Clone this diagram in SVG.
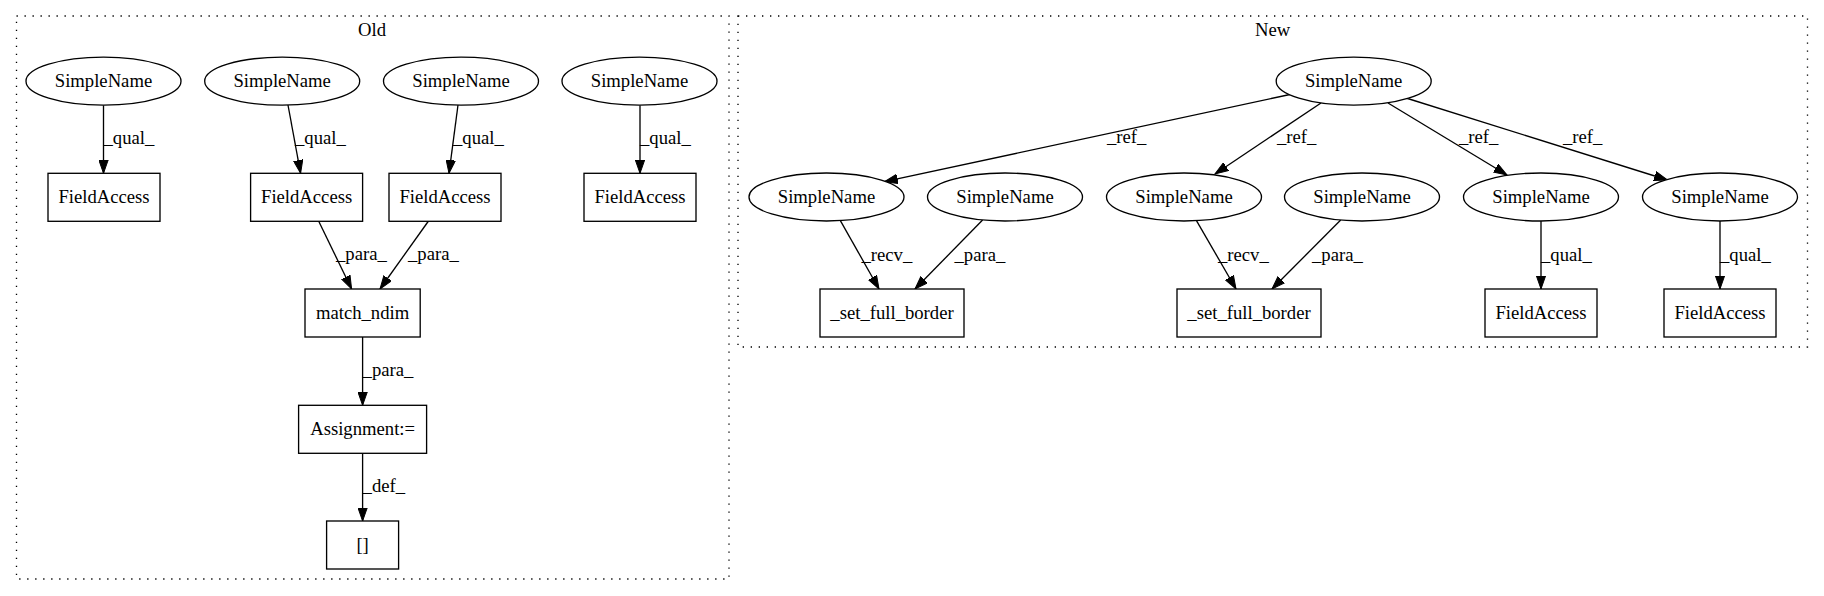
<svg xmlns="http://www.w3.org/2000/svg" width="1824" height="596" viewBox="0 0 1824 596">
<style>
text{font-family:"Liberation Serif","Times New Roman",serif;font-size:18.67px;fill:#000}
.n{text-anchor:middle}
.cl{fill:none;stroke:#000;stroke-width:1.33;stroke-dasharray:1.33,6.67}
.nd{fill:#fff;stroke:#000;stroke-width:1.33}
.e{fill:none;stroke:#000;stroke-width:1.33;marker-end:url(#ah)}
</style>
<defs>
<marker id="ah" markerUnits="userSpaceOnUse" markerWidth="14" markerHeight="10" refX="13.3" refY="4.67" orient="auto" viewBox="0 0 14 9.34">
<path d="M0,0 L13.3,4.67 L0,9.34 z" fill="#000" stroke="#000" stroke-width="1"/>
</marker>
</defs>
<rect width="1824" height="596" fill="#fff"/>
<g id="cluster_old">
<rect class="cl" x="16.5" y="16" width="712.5" height="563"/>
<text class="n" x="372" y="36">Old</text>
</g>
<g id="cluster_new">
<rect class="cl" x="738" y="16" width="1069.5" height="331"/>
<text class="n" x="1272.7" y="36">New</text>
</g>
<g id="connectors">
<line class="e" x1="103.5" y1="105.2" x2="103.5" y2="173.3"/>
<text x="103.5" y="144">_qual_</text>
<line class="e" x1="288" y1="105" x2="300.6" y2="173.3"/>
<text x="295" y="144">_qual_</text>
<line class="e" x1="458" y1="105" x2="449" y2="173.3"/>
<text x="453" y="144">_qual_</text>
<line class="e" x1="640" y1="105.2" x2="640" y2="173.3"/>
<text x="640" y="144">_qual_</text>
<line class="e" x1="318.6" y1="221" x2="351.6" y2="289"/>
<text x="336" y="260">_para_</text>
<line class="e" x1="428.5" y1="221" x2="380" y2="289"/>
<text x="408" y="260">_para_</text>
<line class="e" x1="362.6" y1="337" x2="362.6" y2="405.3"/>
<text x="362.6" y="376">_para_</text>
<line class="e" x1="362.6" y1="453.3" x2="362.6" y2="521"/>
<text x="362.6" y="491.5">_def_</text>
<line class="e" x1="1290" y1="94.5" x2="884.4" y2="181.7"/>
<text x="1107" y="143">_ref_</text>
<line class="e" x1="1321" y1="103" x2="1215" y2="174"/>
<text x="1277" y="143">_ref_</text>
<line class="e" x1="1388" y1="103" x2="1507" y2="175"/>
<text x="1459" y="143">_ref_</text>
<line class="e" x1="1406" y1="98" x2="1667.5" y2="180"/>
<text x="1563" y="143">_ref_</text>
<line class="e" x1="840.5" y1="220.8" x2="879" y2="289"/>
<text x="861.5" y="261">_recv_</text>
<line class="e" x1="982.6" y1="220" x2="915" y2="289"/>
<text x="954.5" y="261">_para_</text>
<line class="e" x1="1196.6" y1="220.8" x2="1236" y2="289"/>
<text x="1218" y="261">_recv_</text>
<line class="e" x1="1340.7" y1="220" x2="1272" y2="289"/>
<text x="1312" y="261">_para_</text>
<line class="e" x1="1541" y1="221" x2="1541" y2="289"/>
<text x="1541" y="261">_qual_</text>
<line class="e" x1="1720" y1="221" x2="1720" y2="289"/>
<text x="1720" y="261">_qual_</text>
</g>
<g id="old_sn1"><ellipse class="nd" cx="103.5" cy="81.2" rx="77.5" ry="24"/><text class="n" x="103.5" y="86.7">SimpleName</text></g>
<g id="old_sn2"><ellipse class="nd" cx="282.2" cy="81.2" rx="77.5" ry="24"/><text class="n" x="282.2" y="86.7">SimpleName</text></g>
<g id="old_sn3"><ellipse class="nd" cx="461" cy="81.2" rx="77.5" ry="24"/><text class="n" x="461" y="86.7">SimpleName</text></g>
<g id="old_sn4"><ellipse class="nd" cx="639.5" cy="81.2" rx="77.5" ry="24"/><text class="n" x="639.5" y="86.7">SimpleName</text></g>
<g id="old_fa1"><rect class="nd" x="48" y="173.3" width="112" height="48"/><text class="n" x="104" y="202.5">FieldAccess</text></g>
<g id="old_fa2"><rect class="nd" x="250.6" y="173.3" width="112" height="48"/><text class="n" x="306.6" y="202.5">FieldAccess</text></g>
<g id="old_fa3"><rect class="nd" x="389" y="173.3" width="112" height="48"/><text class="n" x="445" y="202.5">FieldAccess</text></g>
<g id="old_fa4"><rect class="nd" x="584" y="173.3" width="112" height="48"/><text class="n" x="640" y="202.5">FieldAccess</text></g>
<g id="old_match"><rect class="nd" x="305" y="289" width="115.2" height="48"/><text class="n" x="362.6" y="318.5">match_ndim</text></g>
<g id="old_assign"><rect class="nd" x="298.6" y="405.3" width="128" height="48"/><text class="n" x="362.6" y="434.8">Assignment:=</text></g>
<g id="old_idx"><rect class="nd" x="326.6" y="521" width="72" height="48"/><text class="n" x="362.6" y="550.5">[]</text></g>
<g id="new_top"><ellipse class="nd" cx="1353.7" cy="81.2" rx="77.5" ry="24"/><text class="n" x="1353.7" y="86.7">SimpleName</text></g>
<g id="new_sna"><ellipse class="nd" cx="826.5" cy="197" rx="77.5" ry="24"/><text class="n" x="826.5" y="202.5">SimpleName</text></g>
<g id="new_snb"><ellipse class="nd" cx="1005" cy="197" rx="77.5" ry="24"/><text class="n" x="1005" y="202.5">SimpleName</text></g>
<g id="new_snc"><ellipse class="nd" cx="1184" cy="197" rx="77.5" ry="24"/><text class="n" x="1184" y="202.5">SimpleName</text></g>
<g id="new_snd"><ellipse class="nd" cx="1362" cy="197" rx="77.5" ry="24"/><text class="n" x="1362" y="202.5">SimpleName</text></g>
<g id="new_sne"><ellipse class="nd" cx="1541" cy="197" rx="77.5" ry="24"/><text class="n" x="1541" y="202.5">SimpleName</text></g>
<g id="new_snf"><ellipse class="nd" cx="1720" cy="197" rx="77.5" ry="24"/><text class="n" x="1720" y="202.5">SimpleName</text></g>
<g id="new_sfb1"><rect class="nd" x="820" y="289" width="144" height="48"/><text class="n" x="892" y="318.5">_set_full_border</text></g>
<g id="new_sfb2"><rect class="nd" x="1177" y="289" width="144" height="48"/><text class="n" x="1249" y="318.5">_set_full_border</text></g>
<g id="new_fa1"><rect class="nd" x="1485" y="289" width="112" height="48"/><text class="n" x="1541" y="318.5">FieldAccess</text></g>
<g id="new_fa2"><rect class="nd" x="1664" y="289" width="112" height="48"/><text class="n" x="1720" y="318.5">FieldAccess</text></g>
</svg>
